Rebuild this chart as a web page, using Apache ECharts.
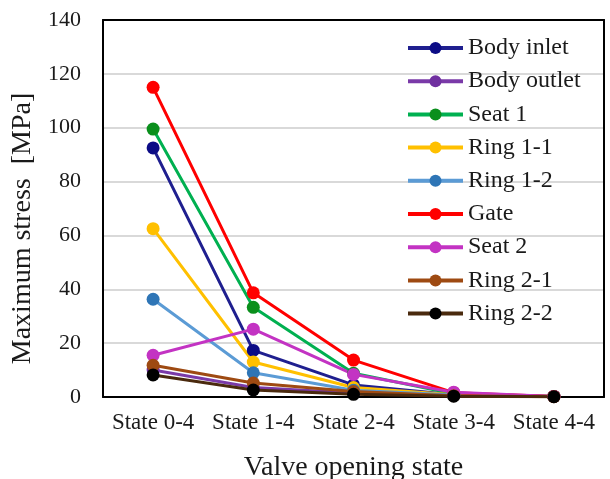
<!DOCTYPE html>
<html>
<head>
<meta charset="utf-8">
<script src="https://cdn.jsdelivr.net/npm/echarts@6/dist/echarts.min.js"></script>
<style>
  html, body { margin: 0; padding: 0; background: #fff; }
  #main { width: 610px; height: 479px; }
</style>
</head>
<body>
<div id="main"></div>
<script>
// categories and tick values
var states = ['State 0-4', 'State 1-4', 'State 2-4', 'State 3-4', 'State 4-4'];
var yTicks = [0, 20, 40, 60, 80, 100, 120, 140];

// series values (MPa)
var bodyInlet  = [92.5, 17.3, 4.5, 0.8, 0.2];
var bodyOutlet = [10.0, 3.5, 1.5, 0.6, 0.2];
var seat1      = [99.5, 33.3, 8.8, 1.2, 0.2];
var ring11     = [62.5, 13.0, 3.5, 0.8, 0.2];
var ring12     = [36.3, 9.0, 2.5, 0.7, 0.2];
var gate       = [115.0, 38.7, 13.7, 1.6, 0.2];
var seat2      = [15.5, 25.2, 8.4, 1.8, 0.2];
var ring21     = [11.8, 5.2, 2.0, 0.5, 0.1];
var ring22     = [8.2, 2.6, 1.0, 0.3, 0.1];

var font = 'Liberation Serif';

function line(name, data, lineColor, dotColor) {
  return {
    name: name,
    type: 'line',
    data: data,
    symbol: 'circle',
    symbolSize: 13,
    lineStyle: { color: lineColor, width: 3 },
    itemStyle: { color: dotColor },
    emphasis: { disabled: true }
  };
}

// plain black axis lines used to close the frame at top and right
var frameAxis = {
  axisLine: { show: true, onZero: false, lineStyle: { color: '#000', width: 2 } },
  axisTick: { show: false },
  axisLabel: { show: false },
  splitLine: { show: false }
};

var myChart = echarts.init(document.getElementById('main'));
myChart.setOption({
  backgroundColor: '#fff',
  animation: false,
  grid: {
    left: 103, right: 6, top: 20, bottom: 82,
    outerBoundsMode: 'none'
  },
  legend: {
    orient: 'vertical',
    left: 401, top: 31,
    itemWidth: 55, itemHeight: 15, itemGap: 9.2,
    lineStyle: { width: 4 },
    textStyle: { fontFamily: font, fontSize: 24, color: '#1a1a1a' },
    data: ['Body inlet', 'Body outlet', 'Seat 1', 'Ring 1-1', 'Ring 1-2', 'Gate', 'Seat 2', 'Ring 2-1', 'Ring 2-2']
  },
  xAxis: [{
    type: 'category',
    data: states,
    boundaryGap: true,
    name: 'Valve opening state',
    nameLocation: 'middle',
    nameGap: 57,
    nameTextStyle: { fontFamily: font, fontSize: 28, color: '#1a1a1a' },
    axisLine: { lineStyle: { color: '#000', width: 2 } },
    axisTick: { show: false },
    axisLabel: { fontFamily: font, fontSize: 23, color: '#1a1a1a', margin: 14, interval: 0 }
  }, Object.assign({ type: 'category', data: states, position: 'top' }, frameAxis)],
  yAxis: [{
    type: 'value',
    min: yTicks[0], max: yTicks[yTicks.length - 1], interval: 20,
    name: 'Maximum stress  [MPa]',
    nameLocation: 'middle',
    nameGap: 63,
    nameTextStyle: { fontFamily: font, fontSize: 28, color: '#1a1a1a', padding: [0, 40, 0, 0] },
    axisLine: { show: true, lineStyle: { color: '#000', width: 2 } },
    axisTick: { show: false },
    axisLabel: { fontFamily: font, fontSize: 22, color: '#1a1a1a', margin: 22 },
    splitLine: { lineStyle: { color: '#d9d9d9', width: 2 } }
  }, Object.assign({ type: 'value', min: 0, max: 140, interval: 20, position: 'right' }, frameAxis)],
  series: [
    line('Body inlet', bodyInlet, '#1f1f8f', '#0c0c86'),
    line('Body outlet', bodyOutlet, '#7a3aa8', '#7030a0'),
    line('Seat 1', seat1, '#00b050', '#0a8f1c'),
    line('Ring 1-1', ring11, '#ffc000', '#ffc000'),
    line('Ring 1-2', ring12, '#5b9bd5', '#2e75b6'),
    line('Gate', gate, '#ff0000', '#ff0000'),
    line('Seat 2', seat2, '#c333c3', '#c333c3'),
    line('Ring 2-1', ring21, '#9e4a12', '#9e4a12'),
    line('Ring 2-2', ring22, '#4a2a0e', '#000000')
  ]
});
</script>
</body>
</html>
